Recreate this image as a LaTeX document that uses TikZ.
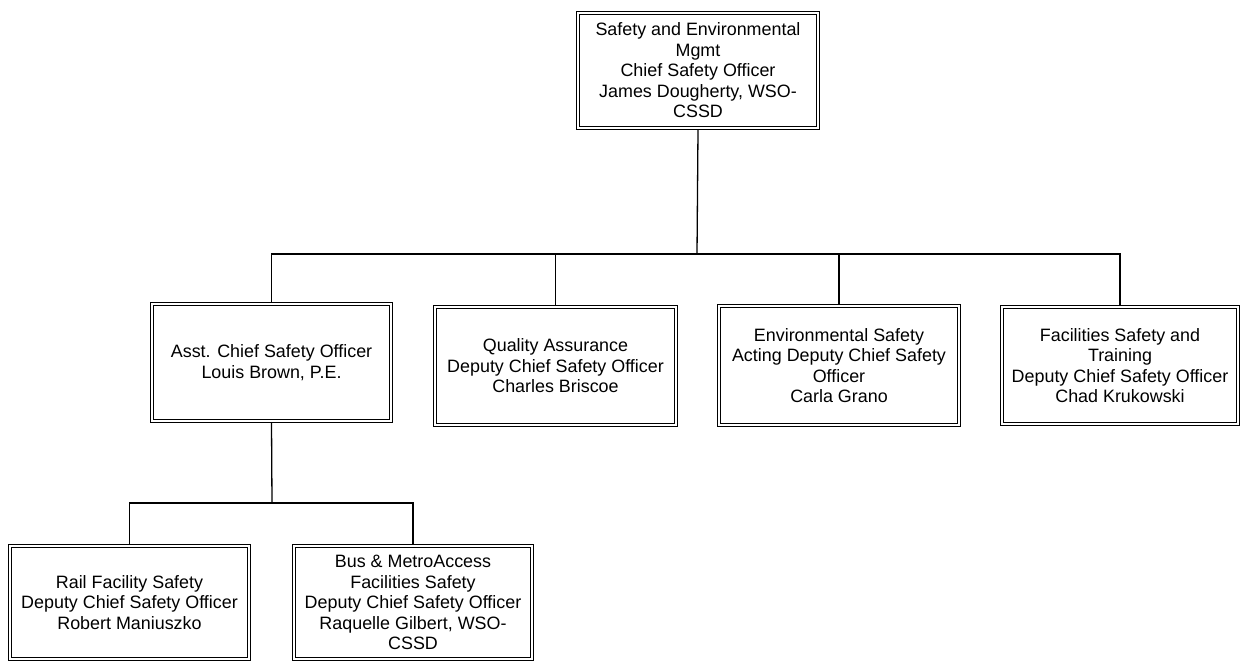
\documentclass[tikz,border=0pt]{standalone}
\usepackage{fontspec}
\setmainfont{Liberation Sans}
\begin{document}
\begin{tikzpicture}[x=1pt,y=-1pt,
  orgbox/.style={draw, double, double distance=2.2pt, line width=1.1pt,
    inner sep=0pt, outer sep=2.2pt, align=center, fill=white,
    font=\fontsize{17.9}{20.5}\selectfont},
  conn/.style={line width=1.3pt}]
\useasboundingbox (0,0) rectangle (1241,662);

% top level
\node[orgbox, minimum width=239.6pt, minimum height=114.6pt] (top) at (698,70.5)
  {Safety and Environmental\\Mgmt\\Chief Safety Officer\\James Dougherty, WSO-\\CSSD};

% second level
\node[orgbox, minimum width=238.6pt, minimum height=116.6pt] (asst) at (271.5,362.5)
  {Asst. Chief Safety Officer\\Louis Brown, P.E.};
\node[orgbox, minimum width=240.6pt, minimum height=117.6pt] (qa) at (555.5,366)
  {Quality Assurance\\Deputy Chief Safety Officer\\Charles Briscoe};
\node[orgbox, minimum width=239.6pt, minimum height=118.6pt] (env) at (839,365.5)
  {Environmental Safety\\Acting Deputy Chief Safety\\Officer\\Carla Grano};
\node[orgbox, minimum width=235.6pt, minimum height=116.6pt] (fac) at (1120,365.5)
  {Facilities Safety and\\Training\\Deputy Chief Safety Officer\\Chad Krukowski};

% third level
\node[orgbox, minimum width=238.6pt, minimum height=112.6pt] (rail) at (129.5,602.5)
  {Rail Facility Safety\\Deputy Chief Safety Officer\\Robert Maniuszko};
\node[orgbox, minimum width=237.6pt, minimum height=112.6pt] (bus) at (413,602.5)
  {Bus \& MetroAccess\\Facilities Safety\\Deputy Chief Safety Officer\\Raquelle Gilbert, WSO-\\CSSD};

% connector buses
\coordinate (busA) at (697,254);
\coordinate (busB) at (272,503);

\draw[conn] (top.south) -- (busA);
\draw[conn] (asst.north) |- (busA) -| (fac.north);
\draw[conn] (qa.north) -- (qa.north |- busA);
\draw[conn] (env.north) -- (env.north |- busA);

\draw[conn] (asst.south) -- (busB);
\draw[conn] (rail.north) |- (busB) -| (bus.north);
\end{tikzpicture}
\end{document}
